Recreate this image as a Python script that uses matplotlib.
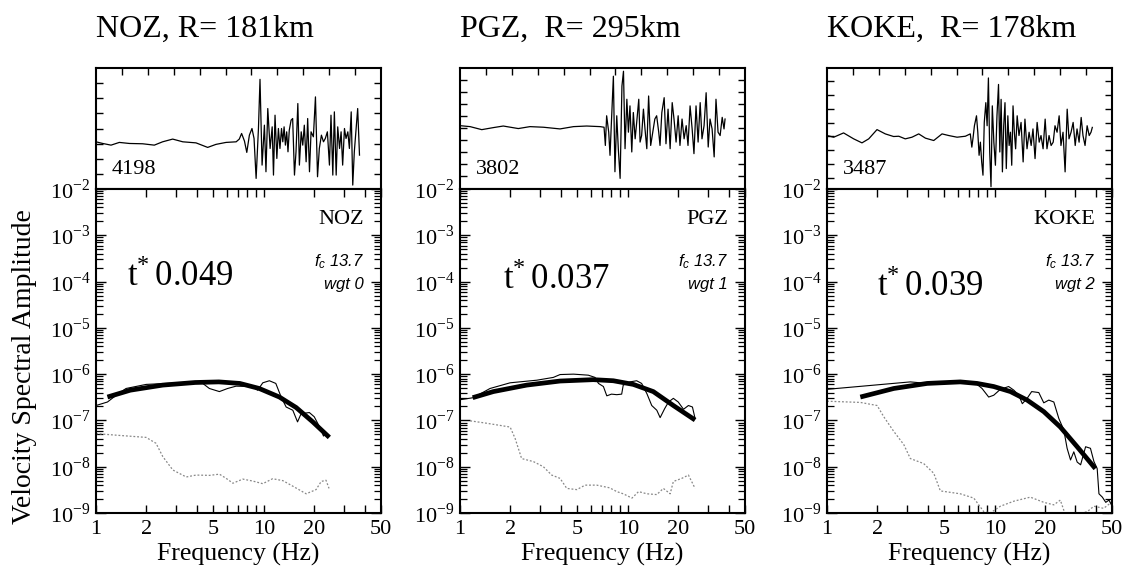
import numpy as np
import matplotlib
matplotlib.use("Agg")
import matplotlib.pyplot as plt
from matplotlib.ticker import FixedLocator, NullFormatter, FuncFormatter

plt.rcParams["font.family"] = ["Liberation Serif", "DejaVu Serif"]
plt.rcParams["mathtext.fontset"] = "custom"
plt.rcParams["mathtext.rm"] = "Liberation Serif"
plt.rcParams["mathtext.it"] = "Liberation Sans:italic"

# station info
stations = ["NOZ", "PGZ", "KOKE"]
titles = ["NOZ, R= 181km", "PGZ,  R= 295km", "KOKE,  R= 178km"]
tstar = ["0.049", "0.037", "0.039"]
weights = ["0", "1", "2"]
fc_text = "13.7"
trace_ids = ["4198", "3802", "3487"]

# ---- spectra (Hz, velocity amplitude) ----
noz_fit_f = [1.17, 1.6, 2.5, 3.9, 5.4, 7.2, 9.4, 12.4, 15.6, 19.6, 24.6]
noz_fit_a = [3.2e-7, 4.5e-7, 5.8e-7, 6.6e-7, 6.8e-7, 6.3e-7, 4.9e-7, 3.2e-7, 1.9e-7, 9.3e-8, 4.3e-8]
noz_obs_f = [1.0, 1.17, 1.32, 1.51, 1.99, 3.14, 4.33, 4.74, 5.44, 6.09, 6.84, 8.6, 9.2,
             9.87, 10.8, 11.8, 12.7, 13.6, 14.9, 15.9, 16.7, 18.7, 20.0, 22.0, 22.7, 23.5]
noz_obs_a = [2.1e-7, 2.5e-7, 3.5e-7, 4.9e-7, 6.0e-7, 6.5e-7, 6.3e-7, 4.9e-7, 4.2e-7, 4.9e-7,
             5.5e-7, 5.4e-7, 4.5e-7, 6.5e-7, 7.2e-7, 6.3e-7, 3.2e-7, 1.95e-7, 1.66e-7, 9.3e-8,
             1.4e-7, 1.48e-7, 1.2e-7, 6.2e-8, 4.6e-8, 5.2e-8]
noz_noise_f = [1.0, 1.32, 1.99, 2.28, 2.5, 2.87, 3.45, 3.95, 4.75, 5.44, 5.97, 6.55, 7.5, 8.6,
               9.87, 11.3, 13.0, 14.9, 17.9, 20.5, 22.0, 23.5, 24.5]
noz_noise_a = [5.2e-8, 4.8e-8, 4.3e-8, 3.2e-8, 1.66e-8, 8.5e-9, 6.0e-9, 6.6e-9, 6.5e-9, 6.9e-9,
               5.6e-9, 4.4e-9, 5.4e-9, 4.9e-9, 4.3e-9, 5.5e-9, 5.0e-9, 3.8e-9, 2.6e-9, 3.2e-9,
               4.8e-9, 5.1e-9, 3.4e-9]

pgz_fit_f = [1.19, 1.58, 2.5, 3.95, 6.23, 8.2, 10.8, 14.2, 18.7, 25.2]
pgz_fit_a = [3.1e-7, 4.2e-7, 5.8e-7, 7.1e-7, 7.6e-7, 7.2e-7, 6.0e-7, 4.2e-7, 2.1e-7, 1.02e-7]
pgz_obs_f = [1.0, 1.2, 1.51, 1.99, 2.87, 3.6, 3.95, 4.75, 5.82, 6.38, 6.69, 7.16, 7.5, 8.0, 8.6,
             9.2, 9.4, 10.3, 11.3, 12.1, 13.0, 13.9, 14.9, 15.6, 16.6, 17.5, 18.7, 20.0, 21.5,
             23.0, 24.3, 25.2]
pgz_obs_a = [2.8e-7, 3.1e-7, 4.9e-7, 6.5e-7, 7.4e-7, 8.5e-7, 9.8e-7, 1.0e-6, 9.5e-7, 8.5e-7,
             6.3e-7, 5.4e-7, 3.4e-7, 3.7e-7, 3.6e-7, 3.7e-7, 5.8e-7, 6.8e-7, 7.2e-7, 6.3e-7,
             3.8e-7, 2.1e-7, 1.66e-7, 1.15e-7, 1.8e-7, 2.5e-7, 3.0e-7, 2.5e-7, 1.74e-7, 2.1e-7,
             1.95e-7, 1.1e-7]
pgz_noise_f = [1.15, 1.44, 1.99, 2.13, 2.33, 2.74, 3.14, 3.52, 3.95, 4.33, 4.97, 5.57, 6.53, 7.8,
               8.6, 9.4, 10.6, 11.6, 13.0, 14.9, 16.3, 17.9, 18.7, 21.0, 23.0, 25.2]
pgz_noise_a = [9.8e-8, 8.7e-8, 7.2e-8, 4.1e-8, 1.5e-8, 1.29e-8, 1.0e-8, 6.6e-9, 5.6e-9, 3.4e-9,
               3.2e-9, 4.0e-9, 4.0e-9, 3.5e-9, 2.9e-9, 2.6e-9, 2.1e-9, 2.9e-9, 2.6e-9, 2.5e-9,
               3.4e-9, 2.6e-9, 4.8e-9, 5.6e-9, 6.6e-9, 3.4e-9]

koke_fit_f = [1.58, 2.5, 3.95, 6.23, 7.85, 9.86, 12.4, 15.6, 19.6, 24.6, 31.0, 39.8]
koke_fit_a = [3.2e-7, 4.9e-7, 6.3e-7, 6.8e-7, 6.3e-7, 5.4e-7, 4.2e-7, 2.75e-7, 1.55e-7, 7.2e-8,
              2.7e-8, 9.1e-9]
koke_obs_f = [1.0, 3.14, 3.95, 6.23, 7.85, 8.4, 9.2, 9.86, 10.8, 12.1, 13.0, 13.9, 14.6, 15.6,
              16.6, 18.3, 19.6, 21.0, 22.5, 24.1, 25.8, 27.0, 28.3, 29.6, 31.0, 32.5, 34.8, 37.2,
              39.0, 40.8, 41.8, 43.8, 45.9, 48.0, 49.6]
koke_obs_a = [4.7e-7, 6.8e-7, 6.3e-7, 6.8e-7, 6.0e-7, 4.9e-7, 3.2e-7, 3.5e-7, 4.7e-7, 5.4e-7,
              4.5e-7, 3.5e-7, 2.3e-7, 3.0e-7, 4.2e-7, 4.0e-7, 2.4e-7, 2.75e-7, 2.5e-7, 1.1e-7,
              6.2e-8, 2.5e-8, 1.4e-8, 2.1e-8, 1.26e-8, 1.1e-8, 2.7e-8, 2.5e-8, 1.3e-8, 9.1e-9,
              2.6e-9, 2.2e-9, 1.7e-9, 1.9e-9, 1.5e-9]
koke_noise_f = [1.0, 1.58, 1.99, 2.18, 2.5, 2.87, 3.14, 3.77, 4.33, 4.74, 6.23, 7.5, 8.6, 9.4,
                10.8, 13.0, 16.3, 19.6, 22.5, 24.6, 26.4, 29.6, 35.6, 39.0, 44.6, 49.6]
koke_noise_a = [2.6e-7, 2.45e-7, 2.1e-7, 1.2e-7, 5.8e-8, 3.0e-8, 1.5e-8, 1.17e-8, 7.2e-9, 3.0e-9,
                2.6e-9, 2.1e-9, 1.07e-9, 1.0e-9, 1.4e-9, 1.8e-9, 2.2e-9, 1.7e-9, 1.5e-9, 1.9e-9,
                9e-10, 9e-10, 1.07e-9, 1.4e-9, 1.26e-9, 1.7e-9]

# ---- waveforms (time units, amplitude in tick units) ----
noz_t = [0, 0.26, 0.58, 0.9, 1.29, 1.8, 2.25, 2.57, 2.96, 3.35, 3.86, 4.31, 4.63, 5.02, 5.41,
         5.53, 5.62, 5.73, 5.82, 5.92, 6.02, 6.1, 6.18, 6.27, 6.33, 6.41, 6.5, 6.56, 6.63, 6.72,
         6.8, 6.85, 6.91, 6.98, 7.04, 7.1, 7.16, 7.21, 7.26, 7.31, 7.36, 7.41, 7.46, 7.53, 7.59,
         7.66, 7.72, 7.79, 7.85, 7.92, 7.98, 8.04, 8.11, 8.17, 8.24, 8.3, 8.39, 8.47, 8.55, 8.62,
         8.7, 8.78, 8.85, 8.93, 9.01, 9.07, 9.14, 9.2, 9.27, 9.33, 9.4, 9.46, 9.52, 9.59, 9.65,
         9.72, 9.78, 9.85, 9.91, 9.97, 10.04, 10.1, 10.17]
noz_w = [3.12, 3.01, 2.9, 3.08, 3.01, 2.99, 2.9, 3.12, 3.3, 3.12, 3.05, 2.75, 2.95, 3.08, 3.12,
         3.3, 3.67, 3.17, 2.42, 3.56, 4.0, 3.34, 0.7, 4.0, 7.25, 1.58, 4.22, 1.14, 5.32, 2.68,
         4.11, 0.92, 4.88, 2.02, 4.0, 2.68, 4.0, 3.12, 4.11, 2.9, 3.78, 2.46, 3.89, 4.55, 4.66,
         0.92, 2.46, 5.65, 1.58, 3.78, 2.9, 4.22, 1.8, 4.66, 1.14, 3.78, 3.45, 6.09, 0.81, 2.68,
         3.56, 3.12, 3.34, 3.78, 1.58, 4.88, 0.92, 5.1, 0.92, 4.11, 2.68, 3.78, 1.58, 4.0, 3.34,
         3.78, 2.68, 5.1, 0.26, 2.46, 4.0, 5.32, 2.24]

pgz_t = [0, 0.39, 0.84, 1.29, 1.67, 2.25, 2.7, 3.22, 3.86, 4.38, 4.89, 5.41, 5.56, 5.61, 5.66,
         5.74, 5.79, 5.86, 5.92, 5.98, 6.05, 6.11, 6.18, 6.25, 6.31, 6.37, 6.44, 6.5, 6.56, 6.63,
         6.69, 6.76, 6.82, 6.9, 6.95, 7.01, 7.08, 7.14, 7.21, 7.28, 7.36, 7.44, 7.52, 7.59, 7.67,
         7.72, 7.79, 7.88, 7.95, 8.03, 8.11, 8.19, 8.26, 8.34, 8.42, 8.49, 8.57, 8.65, 8.73, 8.8,
         8.88, 8.96, 9.03, 9.11, 9.19, 9.27, 9.34, 9.42, 9.5, 9.58, 9.65, 9.73, 9.81, 9.88, 9.96,
         10.04, 10.12, 10.19, 10.23]
pgz_w = [5.18, 5.1, 4.85, 5.02, 5.15, 4.94, 5.1, 5.05, 4.91, 5.1, 5.15, 5.1, 5.05, 3.54, 6.0,
         4.64, 2.72, 6.27, 9.28, 1.36, 6.0, 3.27, 0.81, 8.46, 9.69, 3.27, 7.37, 4.64, 6.82, 3.0,
         6.27, 4.09, 5.46, 7.37, 3.82, 4.36, 6.55, 4.91, 3.27, 7.64, 3.54, 4.64, 5.73, 6.0, 4.64,
         3.54, 6.27, 7.5, 3.68, 6.55, 3.27, 7.09, 5.73, 3.82, 6.0, 3.54, 5.73, 4.09, 5.18, 3.54,
         6.82, 4.91, 2.86, 6.82, 3.82, 7.09, 4.09, 5.18, 7.91, 3.41, 5.73, 4.91, 2.59, 7.37, 4.64,
         4.36, 5.87, 4.91, 5.73]

koke_t = [0, 0.26, 0.64, 1.03, 1.35, 1.61, 1.93, 2.25, 2.57, 2.77, 3.02, 3.28, 3.54, 3.8, 4.12,
          4.44, 4.7, 5.02, 5.34, 5.53, 5.59, 5.64, 5.69, 5.77, 5.82, 5.87, 5.92, 5.97, 6.02, 6.07,
          6.13, 6.18, 6.23, 6.28, 6.33, 6.38, 6.44, 6.5, 6.56, 6.62, 6.67, 6.72, 6.77, 6.82, 6.87,
          6.92, 6.98, 7.03, 7.08, 7.13, 7.18, 7.23, 7.28, 7.34, 7.41, 7.49, 7.57, 7.64, 7.72, 7.8,
          7.88, 7.95, 8.03, 8.11, 8.19, 8.26, 8.34, 8.42, 8.49, 8.57, 8.65, 8.73, 8.8, 8.88, 8.96,
          9.03, 9.11, 9.19, 9.27, 9.34, 9.42, 9.5, 9.58, 9.65, 9.73, 9.81, 9.88, 9.96, 10.04,
          10.12, 10.19, 10.24]
koke_w = [4.06, 3.94, 4.25, 3.82, 3.53, 3.82, 4.49, 4.18, 3.99, 4.01, 3.82, 3.94, 4.18, 3.87,
          3.7, 4.18, 4.06, 3.94, 4.01, 4.18, 3.22, 3.94, 4.77, 5.49, 4.3, 2.63, 3.58, 2.15, 1.19,
          5.01, 6.44, 4.77, 8.23, 2.87, 0.36, 6.21, 3.58, 1.91, 5.49, 7.76, 2.87, 6.68, 1.43,
          4.77, 6.44, 1.67, 5.49, 3.34, 4.3, 1.91, 6.21, 4.3, 3.1, 5.49, 4.06, 5.01, 2.15, 5.25,
          3.1, 4.3, 3.34, 4.54, 2.39, 5.01, 3.58, 4.06, 3.1, 5.25, 3.1, 4.06, 3.34, 3.58, 4.77,
          4.3, 5.49, 3.34, 4.3, 1.43, 5.97, 3.82, 4.3, 5.01, 3.34, 4.54, 3.58, 5.37, 4.06, 3.34,
          4.77, 4.06, 4.3, 4.65]

spectra = [
    (noz_fit_f, noz_fit_a, noz_obs_f, noz_obs_a, noz_noise_f, noz_noise_a),
    (pgz_fit_f, pgz_fit_a, pgz_obs_f, pgz_obs_a, pgz_noise_f, pgz_noise_a),
    (koke_fit_f, koke_fit_a, koke_obs_f, koke_obs_a, koke_noise_f, koke_noise_a),
]
waves = [(noz_t, noz_w), (pgz_t, pgz_w), (koke_t, koke_w)]
wave_ylims = [(0, 8), (-0.07, 9.96), (0.19, 8.95)]
wave_yticks = [range(1, 8), range(1, 10), range(1, 9)]

# layout in pixels
W, H = 1123, 573
lefts = [96, 460, 827]
aw = 285
tstar_pos = [(0.11, 0.70), (0.15, 0.69), (0.175, 0.67)]

# decade and minor tick positions for the log y axis
y_major = [10.0 ** e for e in range(-9, -1)]
y_minor = [k * 10.0 ** e for e in range(-9, -2) for k in range(2, 10)]

fig = plt.figure(figsize=(W / 100, H / 100), dpi=100)

log_fmt = FuncFormatter(lambda v, p: r"$10^{%d}$" % int(round(np.log10(v))))

for i in range(3):
    l = lefts[i] / W
    axt = fig.add_axes([l, 1 - 189 / H, aw / W, 121 / H])
    axb = fig.add_axes([l, 1 - 513 / H, aw / W, 324 / H])

    # waveform
    t, w = waves[i]
    axt.plot(t, w, color="black", lw=0.9)
    axt.set_xlim(0, 11)
    axt.set_ylim(*wave_ylims[i])
    axt.set_xticks(range(1, 11))
    axt.set_yticks(list(wave_yticks[i]))
    axt.tick_params(direction="in", length=5, width=1, top=True, right=True, bottom=False,
                    labelbottom=False, labelleft=False)
    axt.text(0.055, 0.125, trace_ids[i], transform=axt.transAxes, fontsize=16, va="baseline")
    for s in axt.spines.values():
        s.set_linewidth(1.5)

    # spectra
    fit_f, fit_a, obs_f, obs_a, nse_f, nse_a = spectra[i]
    axb.plot(nse_f, nse_a, color="#888888", lw=0.9, ls=(0, (1.5, 1.5)))
    axb.plot(obs_f, obs_a, color="black", lw=0.8)
    axb.plot(fit_f, fit_a, color="black", lw=3.4, solid_capstyle="butt")
    axb.set_xscale("log")
    axb.set_yscale("log")
    axb.set_xlim(1, 50)
    axb.set_ylim(1e-9, 1e-2)
    axb.xaxis.set_major_locator(FixedLocator([1, 2, 5, 10, 20, 50]))
    axb.xaxis.set_major_formatter(FuncFormatter(lambda v, p: "%d" % v))
    axb.xaxis.set_minor_locator(FixedLocator([3, 4, 6, 7, 8, 9, 30, 40]))
    axb.xaxis.set_minor_formatter(NullFormatter())
    axb.yaxis.set_major_locator(FixedLocator(y_major))
    axb.yaxis.set_major_formatter(log_fmt)
    axb.yaxis.set_minor_locator(FixedLocator(y_minor))
    axb.yaxis.set_minor_formatter(NullFormatter())
    axb.tick_params(which="both", direction="in", top=True, right=True, width=1, labelsize=16)
    axb.tick_params(axis="x", which="both", length=6, pad=5)
    axb.tick_params(axis="y", which="major", length=7, pad=4)
    axb.tick_params(axis="y", which="minor", length=5, width=0.9)
    for s in axb.spines.values():
        s.set_linewidth(1.5)
    axb.set_xlabel("Frequency (Hz)", fontsize=18.5, labelpad=3)

    axb.text(0.94, 0.893, stations[i], transform=axb.transAxes, fontsize=16,
             ha="right", va="baseline")
    axb.text(0.94, 0.76, r"$f_c$ " + fc_text, transform=axb.transAxes, fontsize=12,
             ha="right", va="baseline", family="Liberation Sans", style="italic")
    axb.text(0.94, 0.69, "wgt " + weights[i], transform=axb.transAxes, fontsize=12,
             ha="right", va="baseline", family="Liberation Sans", style="italic")
    tx, ty = tstar_pos[i]
    axb.text(tx, ty, r"t$^{*}\,$" + tstar[i], transform=axb.transAxes, fontsize=25,
             ha="left", va="baseline")

    fig.text(l, 1 - 37 / H, titles[i], fontsize=23, va="baseline", ha="left")

fig.text(0.022, 0.36, "Velocity Spectral Amplitude", rotation=90, fontsize=20,
         ha="center", va="center")

fig.savefig("out.png", dpi=100)
